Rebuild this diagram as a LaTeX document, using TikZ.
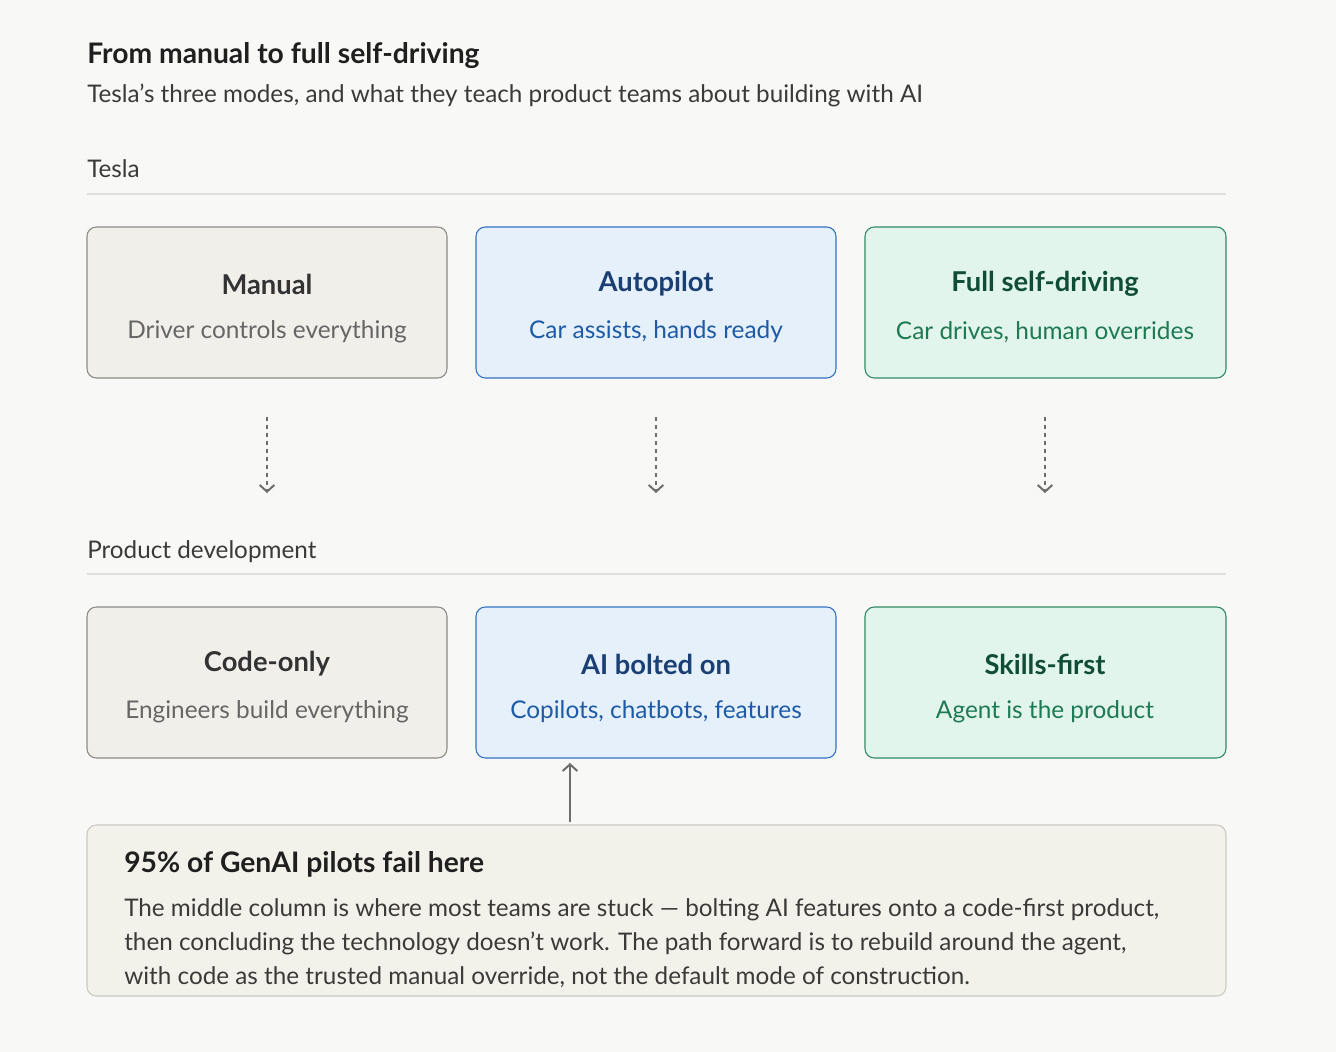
\documentclass[tikz,border=0pt]{standalone}
\usepackage{fontspec}
\setmainfont{Lato}
\usetikzlibrary{arrows.meta}
\begin{document}
\begin{tikzpicture}[x=0.75pt,y=-0.75pt,
 box/.style={draw,rounded corners=7pt,line width=0.8pt},
 gr/.style={box,fill=grfill,draw=grline},
 bl/.style={box,fill=blfill,draw=blline},
 gn/.style={box,fill=gnfill,draw=gnline},
 ttl/.style={font=\fontsize{20.5}{24}\selectfont\bfseries,anchor=center},
 sub/.style={font=\fontsize{18.3}{22}\selectfont,anchor=center},
 body/.style={font=\fontsize{18.2}{22}\selectfont,text=labc,anchor=base west,inner sep=0},
 lab/.style={body},
 darr/.style={draw=arrc,line width=1.5pt,dash pattern=on 3pt off 3pt,-{Straight Barb[length=5pt,width=11pt]}},
]
\definecolor{bg}{HTML}{F8F8F6}
\definecolor{grfill}{HTML}{F0EFEA}\definecolor{grline}{HTML}{8C8B86}
\definecolor{blfill}{HTML}{E6F0FB}\definecolor{blline}{HTML}{3373C4}
\definecolor{gnfill}{HTML}{E2F5EC}\definecolor{gnline}{HTML}{2F8A64}
\definecolor{labc}{HTML}{3A3A38}\definecolor{arrc}{HTML}{6E6E6A}
\definecolor{rule}{HTML}{DEDEDA}\definecolor{notefill}{HTML}{F3F2EA}\definecolor{noteline}{HTML}{CACAC2}
\fill[bg] (0,0) rectangle (1336,1052);
\useasboundingbox (0,0) rectangle (1336,1052);
\node[anchor=base west,inner sep=0,font=\fontsize{21.2}{24}\selectfont\bfseries,text=black!88] (t) at (87,64) {From manual to full self-driving};
\node[body] (st) at (87,103) {Tesla’s three modes, and what they teach product teams about building with AI};
\node[lab] (l1) at (87,178) {Tesla};
\draw[rule,line width=0.8pt] (87,194) -- (1226,194);
\node[lab] (l2) at (87,558) {Product development};
\draw[rule,line width=0.8pt] (87,574) -- (1226,574);
% row 1
\draw[gr] (87,227) rectangle (447,378);
\draw[bl] (476,227) rectangle (836,378);
\draw[gn] (865,227) rectangle (1226,378);
\node[ttl,text=black!80] at (267,284) {Manual};
\node[sub,text=black!60] at (267,332) {Driver controls everything};
\node[ttl,text={rgb,255:red,26;green,63;blue,114}] at (656,284) {Autopilot};
\node[sub,text={rgb,255:red,29;green,91;blue,166}] at (656,332) {Car assists, hands ready};
\node[ttl,text={rgb,255:red,15;green,77;blue,54}] at (1045,284) {Full self-driving};
\node[sub,text={rgb,255:red,30;green,122;blue,82}] at (1045,332) {Car drives, human overrides};
% arrows
\coordinate (a1) at (267,417); \coordinate (b1) at (267,493);
\coordinate (a2) at (656,417); \coordinate (b2) at (656,493);
\coordinate (a3) at (1045,417); \coordinate (b3) at (1045,493);
\draw[darr] (a1) -- (b1); \draw[darr] (a2) -- (b2); \draw[darr] (a3) -- (b3);
% row 2
\draw[gr] (87,607) rectangle (447,758);
\draw[bl] (476,607) rectangle (836,758);
\draw[gn] (865,607) rectangle (1226,758);
\node[ttl,text=black!80] at (267,664) {Code-only};
\node[sub,text=black!60] at (267,712) {Engineers build everything};
\node[ttl,text={rgb,255:red,26;green,63;blue,114}] at (656,664) {AI bolted on};
\node[sub,text={rgb,255:red,29;green,91;blue,166}] at (656,712) {Copilots, chatbots, features};
\node[ttl,text={rgb,255:red,15;green,77;blue,54}] at (1045,664) {Skills-first};
\node[sub,text={rgb,255:red,30;green,122;blue,82}] at (1045,712) {Agent is the product};
% note
\draw[box,fill=notefill,draw=noteline] (87,825) rectangle (1226,996);
\coordinate (p) at (570,822); \coordinate (q) at (570,763);
\draw[draw=arrc,line width=1.5pt,-{Straight Barb[length=5pt,width=11pt]}] (p) -- (q);
\node[anchor=base west,inner sep=0,font=\fontsize{21.2}{24}\selectfont\bfseries,text=black!88] at (124,872) {95\% of GenAI pilots fail here};
\node[body] at (124,916) {The middle column is where most teams are stuck — bolting AI features onto a code-first product,};
\node[body] at (124,950) {then concluding the technology doesn’t work. The path forward is to rebuild around the agent,};
\node[body] at (124,984) {with code as the trusted manual override, not the default mode of construction.};
\end{tikzpicture}
\end{document}
